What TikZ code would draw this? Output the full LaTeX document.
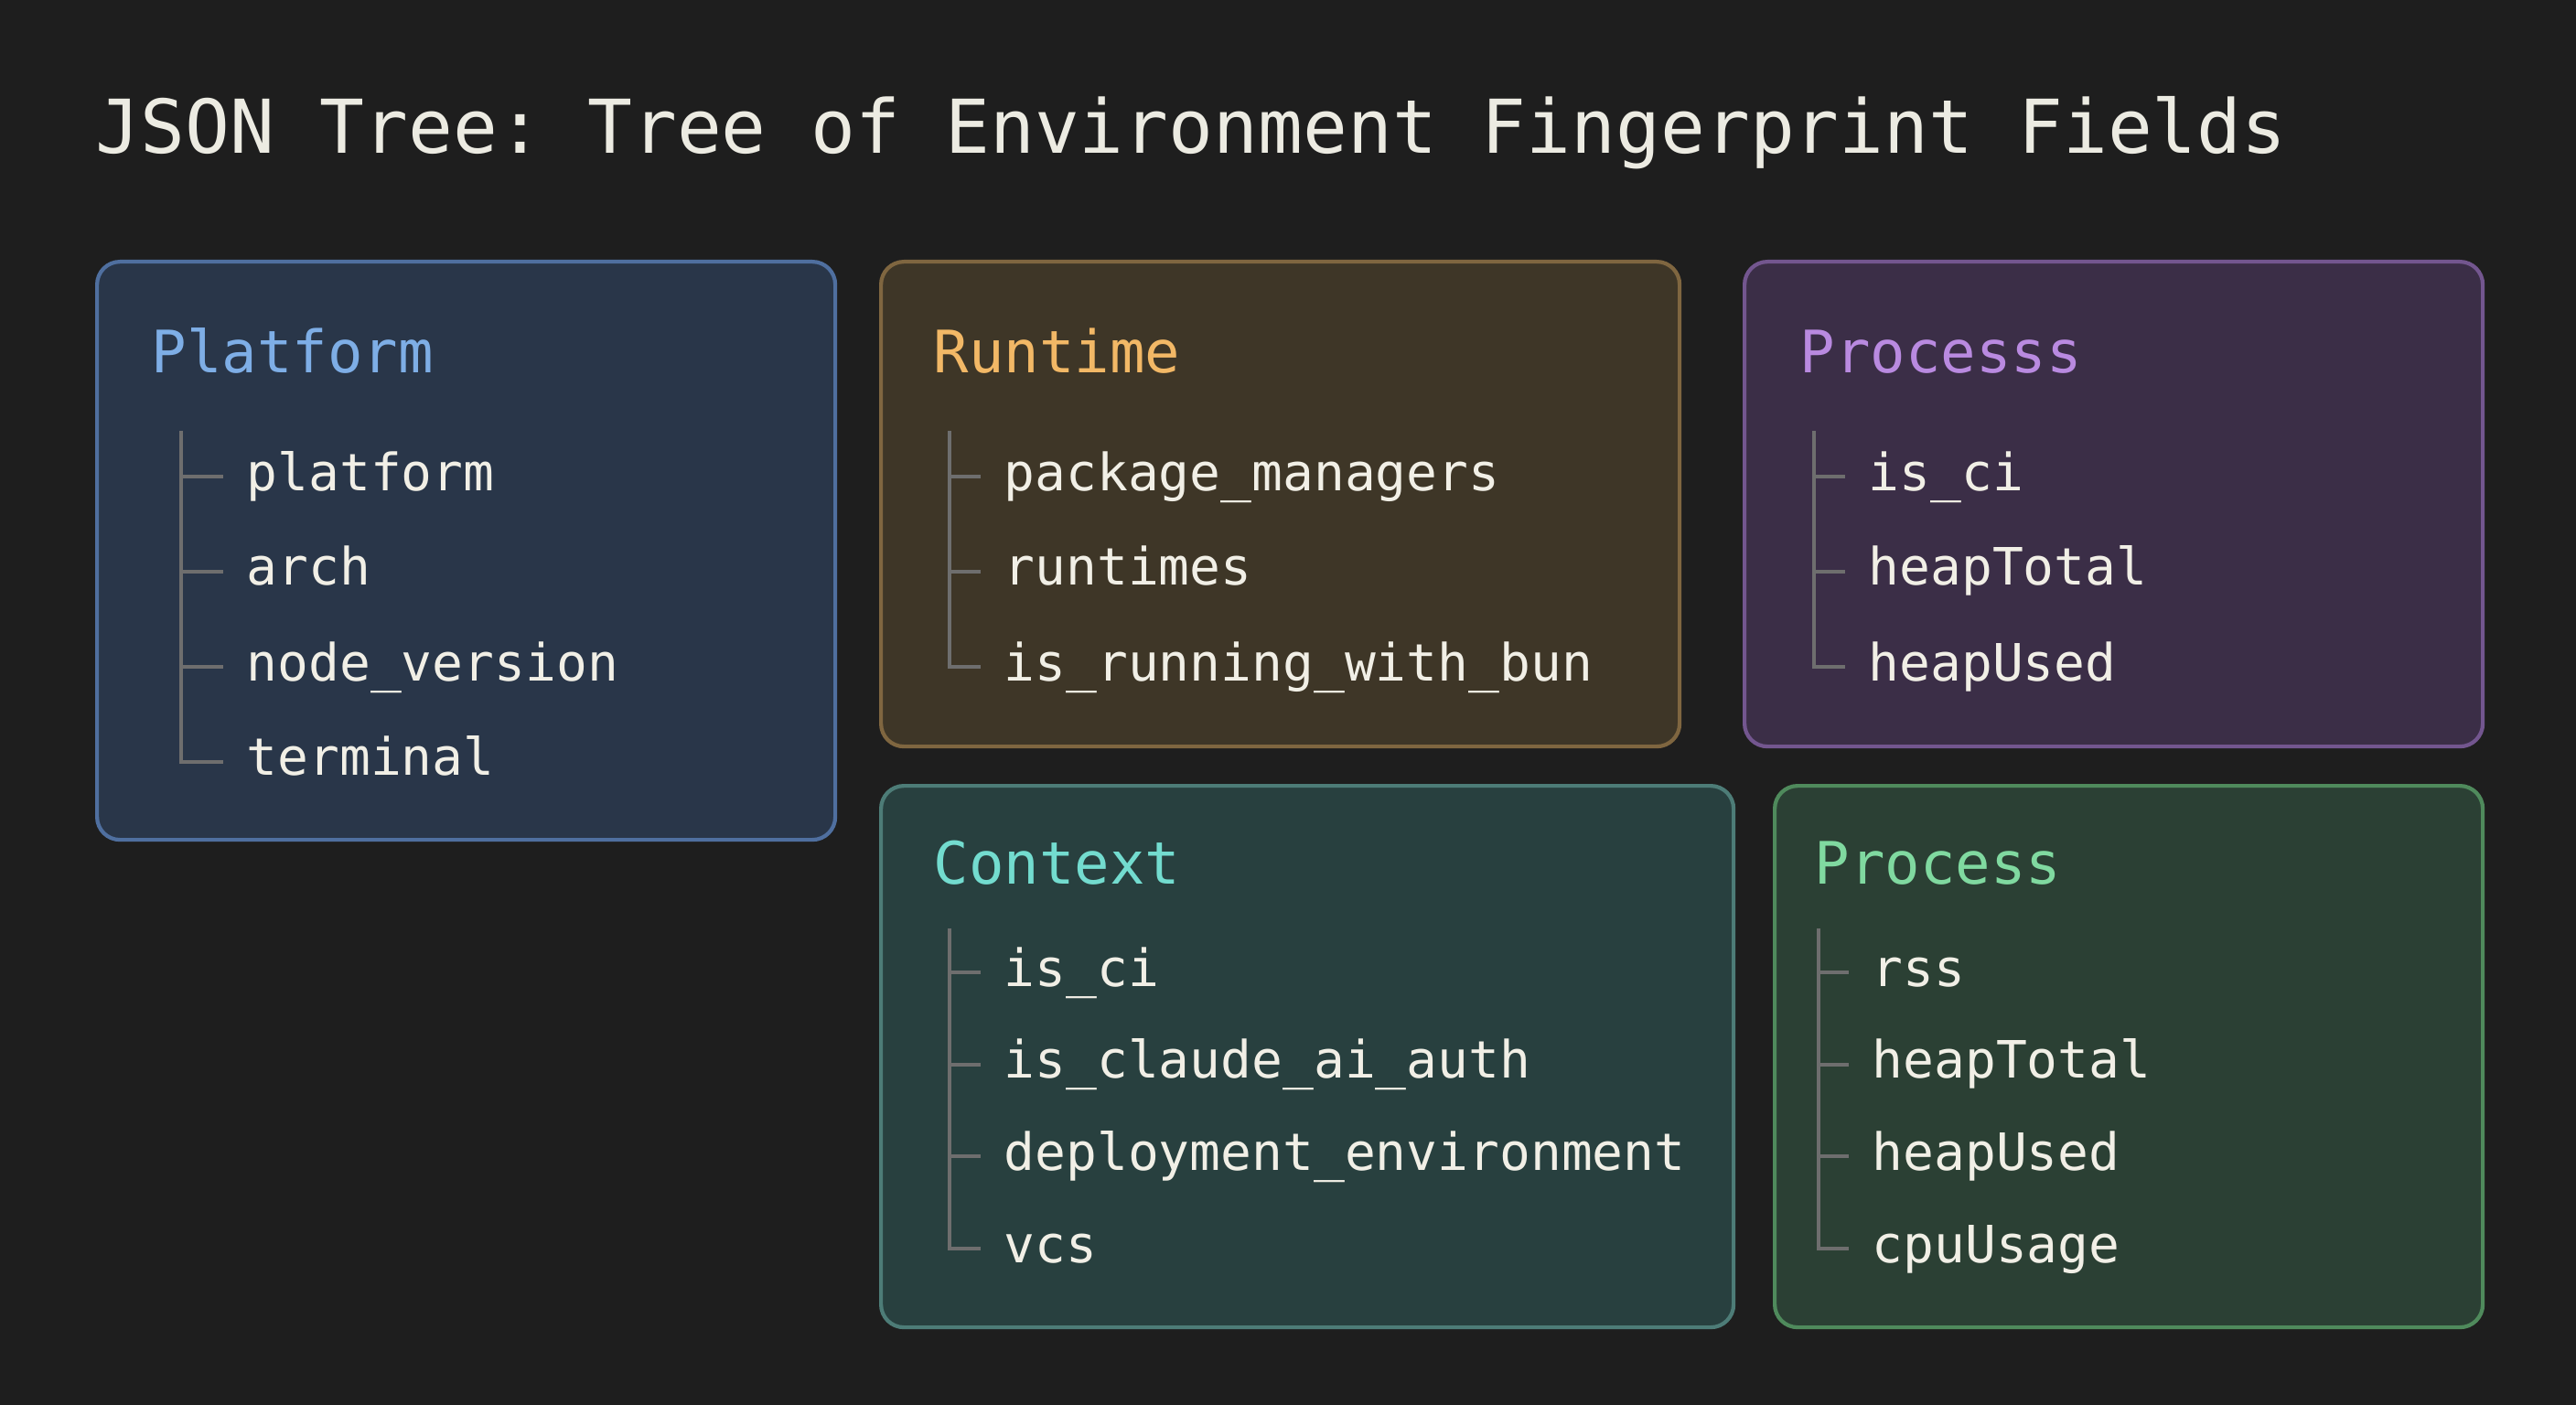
\documentclass[tikz,border=0pt]{standalone}
\usepackage{fontspec}
\setmonofont{DejaVu Sans Mono}
\usepackage{tikz}
\usetikzlibrary{calc,positioning}
\definecolor{bg}{HTML}{1E1E1E}
\definecolor{titeltxt}{HTML}{ECEBE2}
\definecolor{itemtxt}{HTML}{F1EFE6}
\definecolor{treeline}{HTML}{6E6E6E}
\definecolor{platFill}{HTML}{293649}
\definecolor{platRand}{HTML}{4F6F9F}
\definecolor{platKopf}{HTML}{7EAEE6}
\definecolor{runFill}{HTML}{3E3627}
\definecolor{runRand}{HTML}{7F6640}
\definecolor{runKopf}{HTML}{F2B866}
\definecolor{procsFill}{HTML}{3B2E47}
\definecolor{procsRand}{HTML}{73568F}
\definecolor{procsKopf}{HTML}{B98AE0}
\definecolor{ctxFill}{HTML}{28403F}
\definecolor{ctxRand}{HTML}{4D7C77}
\definecolor{ctxKopf}{HTML}{73DCCF}
\definecolor{procFill}{HTML}{2B4034}
\definecolor{procRand}{HTML}{4F8A5C}
\definecolor{procKopf}{HTML}{80D9A0}
\begin{document}
\begin{tikzpicture}[
  panel/.style={draw,rounded corners=0.25cm,line width=1.2pt,anchor=north west,inner sep=0pt},
  kopf/.style={anchor=base west,inner sep=0pt,font=\ttfamily\fontsize{18.2}{20}\selectfont},
  item/.style={anchor=base west,inner sep=0pt,text=itemtxt,font=\ttfamily\fontsize{16}{18}\selectfont},
  tree/.style={draw=treeline,line width=1.1pt}]
%Hintergrund, 1px = 0.01cm
\fill[bg] (0,0) rectangle (28.16,-15.36);
\node[anchor=base west,inner sep=0pt,text=titeltxt,font=\ttfamily\fontsize{23.1}{26}\selectfont] (titel) at (1.04,-1.68) {JSON Tree: Tree of Environment Fingerprint Fields};
%Kaesten
\node[panel,draw=platRand,fill=platFill,minimum width=8.07cm,minimum height=6.32cm] (plat) at (1.04,-2.84) {};
\node[panel,draw=runRand,fill=runFill,minimum width=8.73cm,minimum height=5.30cm] (run) at (9.61,-2.84) {};
\node[panel,draw=procsRand,fill=procsFill,minimum width=8.07cm,minimum height=5.30cm] (procs) at (19.05,-2.84) {};
\node[panel,draw=ctxRand,fill=ctxFill,minimum width=9.32cm,minimum height=5.92cm] (ctx) at (9.61,-8.57) {};
\node[panel,draw=procRand,fill=procFill,minimum width=7.74cm,minimum height=5.92cm] (proc) at (19.38,-8.57) {};
%Ueberschriften
\node[kopf,text=platKopf] (platH) at (1.65,-4.07) {Platform};
\node[kopf,text=runKopf] (runH) at (10.20,-4.07) {Runtime};
\node[kopf,text=procsKopf] (procsH) at (19.67,-4.07) {Processs};
\node[kopf,text=ctxKopf] (ctxH) at (10.20,-9.66) {Context};
\node[kopf,text=procKopf] (procH) at (19.83,-9.66) {Process};
%Platform (Striche auf halber x-Hoehe: 0.15cm ueber der Grundlinie)
\foreach \t [count=\i] in {platform,arch,node\_version,terminal}{
  \node[item] (pl\i) at (2.69,{-5.36-1.04*(\i-1)}) {\t};
  \coordinate (plT\i) at ([shift={(-0.25,0.15)}]pl\i.base west);
}
\coordinate (plTop) at (1.98,-4.71);
\foreach \i in {1,2,3} \draw[tree] (plTop |- plT\i) -- (plT\i);
\draw[tree] (plTop) |- (plT4);
%Runtime
\foreach \t [count=\i] in {package\_managers,runtimes,is\_running\_with\_bun}{
  \node[item] (ru\i) at (10.97,{-5.36-1.04*(\i-1)}) {\t};
  \coordinate (ruT\i) at ([shift={(-0.25,0.15)}]ru\i.base west);
}
\coordinate (ruTop) at (10.38,-4.71);
\foreach \i in {1,2} \draw[tree] (ruTop |- ruT\i) -- (ruT\i);
\draw[tree] (ruTop) |- (ruT3);
%Processs
\foreach \t [count=\i] in {is\_ci,heapTotal,heapUsed}{
  \node[item] (ps\i) at (20.42,{-5.36-1.04*(\i-1)}) {\t};
  \coordinate (psT\i) at ([shift={(-0.25,0.15)}]ps\i.base west);
}
\coordinate (psTop) at (19.83,-4.71);
\foreach \i in {1,2} \draw[tree] (psTop |- psT\i) -- (psT\i);
\draw[tree] (psTop) |- (psT3);
%Context
\foreach \t [count=\i] in {is\_ci,is\_claude\_ai\_auth,deployment\_environment,vcs}{
  \node[item] (cx\i) at (10.97,{-10.78-1.007*(\i-1)}) {\t};
  \coordinate (cxT\i) at ([shift={(-0.25,0.15)}]cx\i.base west);
}
\coordinate (cxTop) at (10.38,-10.15);
\foreach \i in {1,2,3} \draw[tree] (cxTop |- cxT\i) -- (cxT\i);
\draw[tree] (cxTop) |- (cxT4);
%Process
\foreach \t [count=\i] in {rss,heapTotal,heapUsed,cpuUsage}{
  \node[item] (pr\i) at (20.46,{-10.78-1.007*(\i-1)}) {\t};
  \coordinate (prT\i) at ([shift={(-0.25,0.15)}]pr\i.base west);
}
\coordinate (prTop) at (19.88,-10.15);
\foreach \i in {1,2,3} \draw[tree] (prTop |- prT\i) -- (prT\i);
\draw[tree] (prTop) |- (prT4);
\end{tikzpicture}
\end{document}
